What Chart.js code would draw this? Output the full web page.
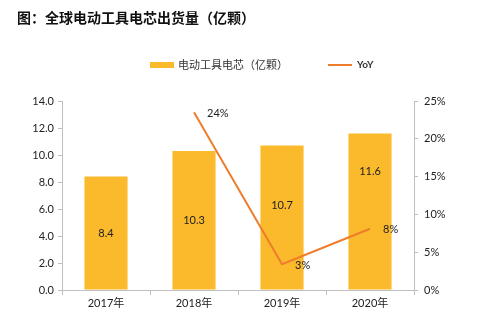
<!DOCTYPE html>
<html lang="zh">
<head>
    <meta charset="UTF-8">
    <title>全球电动工具电芯出货量</title>
    <script src="https://cdn.jsdelivr.net/npm/chart.js"></script>
    <style>
        html, body { margin: 0; padding: 0; background: #fff; }
        #wrap { width: 500px; height: 333px; position: relative; }
    </style>
</head>
<body>
    <div id="wrap"><canvas id="chart" width="500" height="333"></canvas></div>

    <script>
        const years = ['2017年', '2018年', '2019年', '2020年'];
        const shipments = [8.4, 10.3, 10.7, 11.6];
        const yoy = [null, 23.5, 3.4, 8.1];
        const yoyLabels = ['', '24%', '3%', '8%'];
        const leftTicks = [0, 2, 4, 6, 8, 10, 12, 14];
        const rightTicks = [0, 5, 10, 15, 20, 25];

        const FONT = "Lato, 'Noto Sans CJK SC', sans-serif";
        const CJK = "'Noto Sans CJK SC', sans-serif";
        const barColor = '#FBBA2C';
        const lineColor = '#EE7D2B';
        const axisColor = '#BFBFBF';

        // title, legend and value labels
        const decorations = {
            id: 'decorations',
            afterDraw(chart) {
                const ctx = chart.ctx;
                ctx.save();
                ctx.fillStyle = '#111';
                ctx.font = "bold 14px " + CJK;
                ctx.textBaseline = 'middle';
                ctx.fillText('图：全球电动工具电芯出货量（亿颗）', 17, 18);

                ctx.font = "11px " + CJK;
                ctx.fillStyle = barColor;
                ctx.fillRect(150, 62, 24, 6);
                ctx.fillStyle = '#333';
                ctx.fillText('电动工具电芯（亿颗）', 178, 65);
                ctx.strokeStyle = lineColor;
                ctx.lineWidth = 2;
                ctx.beginPath();
                ctx.moveTo(328, 65);
                ctx.lineTo(352, 65);
                ctx.stroke();
                ctx.font = "bold 10px " + FONT;
                ctx.fillText('YoY', 357, 65);

                ctx.font = "11px " + FONT;
                ctx.fillStyle = '#222';
                ctx.textAlign = 'center';
                chart.getDatasetMeta(0).data.forEach((bar, i) => {
                    const yMid = (bar.y + bar.base) / 2;
                    const lift = i === 3 ? 40 : (i === 2 ? 12 : 0);
                    ctx.fillText(shipments[i].toFixed(1), bar.x, yMid - lift);
                });
                ctx.textAlign = 'left';
                chart.getDatasetMeta(1).data.forEach((pt, i) => {
                    if (!yoyLabels[i]) return;
                    ctx.fillText(yoyLabels[i], pt.x + 13, pt.y + 1);
                });
                ctx.restore();
            }
        };

        new Chart(document.getElementById('chart'), {
            data: {
                labels: years,
                datasets: [{
                    type: 'bar',
                    label: '电动工具电芯（亿颗）',
                    data: shipments,
                    backgroundColor: barColor,
                    yAxisID: 'y',
                    barPercentage: 0.49,
                    categoryPercentage: 1.0,
                    order: 2
                }, {
                    type: 'line',
                    label: 'YoY',
                    data: yoy,
                    borderColor: lineColor,
                    borderWidth: 2,
                    pointRadius: 0,
                    tension: 0,
                    yAxisID: 'y1',
                    order: 1
                }]
            },
            options: {
                responsive: false,
                animation: false,
                layout: { padding: { top: 101, left: 0, right: 0, bottom: 0 } },
                plugins: {
                    legend: { display: false },
                    title: { display: false },
                    tooltip: { enabled: false }
                },
                scales: {
                    x: {
                        grid: { display: true, drawOnChartArea: false, tickLength: 5, color: axisColor, offset: true },
                        border: { color: axisColor, width: 1 },
                        ticks: { color: '#222', font: { family: FONT, size: 11 }, padding: 2 },
                        afterFit(s) { s.height = 43; }
                    },
                    y: {
                        position: 'left',
                        min: 0, max: 14,
                        afterBuildTicks(s) { s.ticks = leftTicks.map(v => ({ value: v })); },
                        grid: { drawOnChartArea: false, tickLength: 4, color: axisColor },
                        border: { color: axisColor, width: 1 },
                        ticks: { color: '#222', font: { family: FONT, size: 11 }, padding: 4,
                            callback: v => v.toFixed(1) },
                        afterFit(s) { s.width = 62; }
                    },
                    y1: {
                        position: 'right',
                        min: 0, max: 25,
                        afterBuildTicks(s) { s.ticks = rightTicks.map(v => ({ value: v })); },
                        grid: { drawOnChartArea: false, tickLength: 4, color: axisColor },
                        border: { color: axisColor, width: 1 },
                        ticks: { color: '#222', font: { family: FONT, size: 11 }, padding: 6,
                            callback: v => v + '%' },
                        afterFit(s) { s.width = 86; }
                    }
                }
            },
            plugins: [decorations]
        });
    </script>
</body>
</html>
